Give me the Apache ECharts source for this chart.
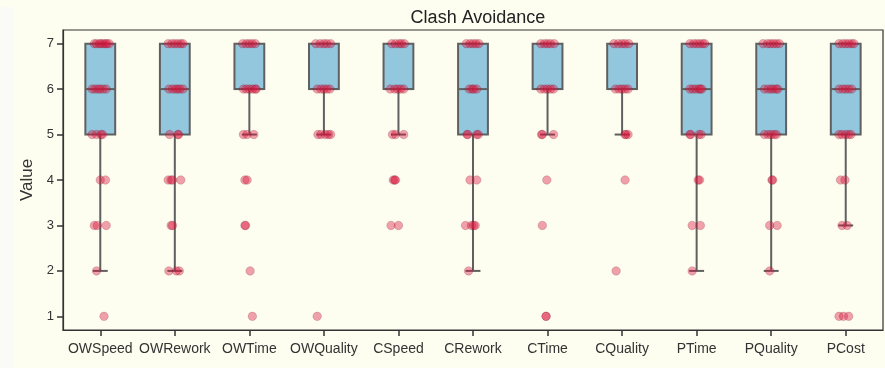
<!DOCTYPE html>
<html>
<head>
<meta charset="utf-8">
<script src="https://cdn.jsdelivr.net/npm/echarts@6/dist/echarts.min.js"></script>
<style>
html,body{margin:0;padding:0;background:#fdfdf0;}
#chart{width:885px;height:368px;}
</style>
</head>
<body>
<div id="chart"></div>
<script>
const chartTitle = 'Clash Avoidance';
const yAxisName = 'Value';
const categories = ['OWSpeed','OWRework','OWTime','OWQuality','CSpeed','CRework','CTime','CQuality','PTime','PQuality','PCost'];
const yTicks = [1,2,3,4,5,6,7];

// box statistics: [lower whisker, Q1, median, Q3, upper whisker]
const boxStats = [
  [2,5,6,7,7],
  [2,5,6,7,7],
  [5,6,6,7,7],
  [5,6,6,7,7],
  [5,6,6,7,7],
  [2,5,6,7,7],
  [5,6,6,7,7],
  [5,6,6,7,7],
  [2,5,6,7,7],
  [2,5,6,7,7],
  [3,5,6,7,7]
];

// strip points: values per category and their horizontal jitter (in category units)
const pointValues = [
  [7,7,7,7,7,7,7,7, 6,6,6,6,6,6, 5,5,5,5, 4,4, 3,3,3, 2, 1],
  [7,7,7,7,7,7, 6,6,6,6,6,6, 5,5,5, 4,4,4,4, 3,3, 2,2,2],
  [7,7,7,7,7, 6,6,6,6,6,6, 5,5,5, 4,4, 3,3, 2, 1],
  [7,7,7,7,7, 6,6,6,6,6, 5,5,5,5,5, 1],
  [7,7,7,7,7, 6,6,6,6,6, 5,5,5, 4,4,4, 3,3],
  [7,7,7,7,7, 6,6,6,6, 5,5,5,5, 4,4, 3,3,3,3, 2],
  [7,7,7,7,7, 6,6,6,6,6, 5,5,5, 4, 3, 1,1],
  [7,7,7,7,7, 6,6,6,6,6, 5,5,5, 4, 2],
  [7,7,7,7,7,7, 6,6,6,6,6,6, 5,5,5,5, 4,4, 3,3, 2],
  [7,7,7,7,7,7, 6,6,6,6,6,6, 5,5,5,5,5, 4,4, 3,3, 2],
  [7,7,7,7,7,7, 6,6,6,6,6, 5,5,5,5,5, 4,4, 3,3, 1,1,1]
];
const pointJitter = [
  [-0.08,-0.05,-0.01,0.01,0.04,0.07,0.09,0.12, -0.11,-0.07,-0.03,0,0.04,0.08, -0.11,-0.05,0.01,0.03, 0,0.07, -0.08,-0.04,0.08, -0.05, 0.05],
  [-0.09,-0.04,0,0.04,0.08,0.11, -0.08,-0.03,0.01,0.04,0.07,0.11, -0.07,0.04,0.05, -0.09,-0.05,-0.03,0.08, -0.05,-0.03, -0.08,0.02,0.06],
  [-0.09,-0.04,0,0.04,0.08, -0.08,-0.04,0,0.04,0.08,0.09, -0.08,-0.03,0.06, -0.06,-0.03, -0.06,-0.05, 0.01, 0.04],
  [-0.11,-0.05,0,0.04,0.09, -0.09,-0.04,0,0.04,0.08, -0.08,-0.04,0.02,0.06,0.09, -0.09],
  [-0.09,-0.04,0.01,0.04,0.08, -0.11,-0.05,-0.01,0.03,0.07, -0.08,-0.04,0.07, -0.07,-0.05,-0.04, -0.1,0],
  [-0.09,-0.04,0,0.04,0.08, -0.05,-0.01,0.01,0.05, -0.08,-0.07,0.05,0.07, -0.04,0.05, -0.1,-0.02,0.01,0.03, -0.06],
  [-0.09,-0.04,0,0.04,0.09, -0.09,-0.04,0,0.04,0.08, -0.08,-0.07,0.08, -0.01, -0.07, -0.02,-0.02],
  [-0.11,-0.05,0,0.04,0.09, -0.09,-0.04,0,0.04,0.08, 0.04,0.05,0.08, 0.04, -0.08],
  [-0.09,-0.04,0,0.04,0.08,0.11, -0.09,-0.05,-0.01,0.03,0.05,0.07, -0.09,-0.08,0.03,0.06, 0.02,0.04, -0.06,0.05, -0.06],
  [-0.11,-0.05,-0.01,0.03,0.07,0.11, -0.09,-0.04,0,0.03,0.07,0.09, -0.09,-0.04,0,0.04,0.07, 0.01,0.02, -0.02,0.08, -0.02],
  [-0.09,-0.04,0,0.04,0.08,0.11, -0.09,-0.04,0,0.04,0.08, -0.09,-0.05,0,0.04,0.07, -0.07,-0.01, -0.05,0.02, -0.09,-0.03,0.04]
];

const boxData = boxStats.map((s, i) => [i].concat(s));
const stripData = [];
pointValues.forEach((vals, i) => {
  vals.forEach((v, j) => stripData.push([i + pointJitter[i][j], v]));
});

const BOX_HALF = 0.2, CAP_HALF = 0.1;
const EDGE = '#606060', FILL = '#93c7de';

const chart = echarts.init(document.getElementById('chart'), null, {renderer: 'canvas'});
chart.setOption({
  backgroundColor: '#fdfdf0',
  animation: false,
  textStyle: {fontFamily: 'Liberation Sans, Arial, sans-serif'},
  title: {
    text: chartTitle, left: 473, top: 4, textAlign: 'center',
    textStyle: {fontSize: 18, fontWeight: 'normal', color: '#222', fontFamily: 'Liberation Sans, Arial, sans-serif'}
  },
  graphic: [{
    type: 'rect', left: 0, top: 7, silent: true, z: -10,
    shape: {width: 13, height: 361}, style: {fill: '#fafaf7'}
  }],
  grid: {
    left: 63, right: 2, top: 30, bottom: 38,
    show: true, borderColor: '#333', borderWidth: 1.2, backgroundColor: 'transparent'
  },
  xAxis: [{
    type: 'category', data: categories, boundaryGap: true,
    axisLine: {show: true, onZero: false, lineStyle: {color: '#333', width: 1.2}},
    axisTick: {show: true, inside: false, alignWithLabel: true, length: 6, lineStyle: {color: '#333', width: 1.5}},
    axisLabel: {fontSize: 14, color: '#333', margin: 12, interval: 0},
    splitLine: {show: false}
  }, {
    type: 'value', min: -0.5, max: 10.5, show: false
  }],
  yAxis: {
    type: 'value', min: 0.7, max: 7.3,
    name: yAxisName, nameLocation: 'middle', nameGap: 23,
    nameTextStyle: {fontSize: 17, color: '#333'},
    axisLine: {show: true, onZero: false, lineStyle: {color: '#333', width: 1.2}},
    axisTick: {show: true, inside: false, length: 6, customValues: yTicks, lineStyle: {color: '#333', width: 1.5}},
    axisLabel: {fontSize: 13, color: '#333', margin: 9, customValues: yTicks},
    splitLine: {show: false}
  },
  series: [{
    type: 'custom', xAxisIndex: 1, yAxisIndex: 0, data: boxData, z: 2,
    renderItem: function (params, api) {
      const x = api.value(0);
      const low = api.value(1), q1 = api.value(2), med = api.value(3), q3 = api.value(4), high = api.value(5);
      const tl = api.coord([x - BOX_HALF, q3]);
      const br = api.coord([x + BOX_HALF, q1]);
      const cx = api.coord([x, q1])[0];
      const yLow = api.coord([x, low])[1], yHigh = api.coord([x, high])[1];
      const yQ1 = br[1], yQ3 = tl[1], yMed = api.coord([x, med])[1];
      const capL = api.coord([x - CAP_HALF, low])[0], capR = api.coord([x + CAP_HALF, low])[0];
      const ls = {stroke: EDGE, lineWidth: 2};
      return {
        type: 'group',
        children: [
          {type: 'line', shape: {x1: cx, y1: yQ1, x2: cx, y2: yLow}, style: ls},
          {type: 'line', shape: {x1: cx, y1: yQ3, x2: cx, y2: yHigh}, style: ls},
          {type: 'line', shape: {x1: capL, y1: yLow, x2: capR, y2: yLow}, style: ls},
          {type: 'line', shape: {x1: capL, y1: yHigh, x2: capR, y2: yHigh}, style: ls},
          {type: 'rect', shape: {x: tl[0], y: tl[1], width: br[0] - tl[0], height: br[1] - tl[1]},
            style: {fill: FILL, stroke: EDGE, lineWidth: 2}},
          {type: 'line', shape: {x1: tl[0], y1: yMed, x2: br[0], y2: yMed}, style: ls}
        ]
      };
    }
  }, {
    type: 'scatter', xAxisIndex: 1, yAxisIndex: 0, data: stripData, z: 5,
    symbol: 'circle', symbolSize: 8.5,
    itemStyle: {color: 'rgba(220,20,60,0.5)', borderColor: 'rgba(110,20,40,0.4)', borderWidth: 0.6}
  }]
});
</script>
</body>
</html>
